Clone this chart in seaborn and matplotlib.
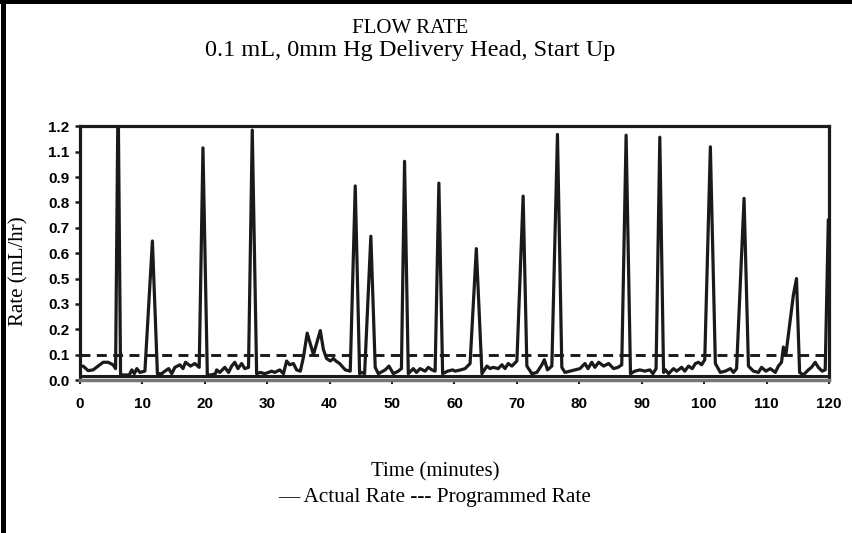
import numpy as np
import pandas as pd
import seaborn as sns
import matplotlib.pyplot as plt
from matplotlib.lines import Line2D

# Time (minutes) and actual flow rate (mL/hr)
time_min = [0.5, 1.3, 2.1, 2.9, 3.7, 4.5, 5.3, 5.7, 6.1, 6.5, 7.0, 7.9, 8.3, 8.7, 9.1, 9.6,
            10.4, 11.6, 12.4, 13.1, 13.6, 14.2, 14.7, 15.2, 16.0, 16.5, 16.9, 17.7, 18.4, 19.1,
            19.7, 20.4, 21.0, 21.7, 21.9, 22.4, 23.2, 23.8, 24.3, 24.8, 25.3, 25.9, 26.4, 27.0,
            27.6, 28.3, 28.9, 29.6, 30.2, 30.7, 31.2, 32.0, 32.6, 33.1, 33.6, 34.2, 34.7, 35.3,
            35.8, 36.4, 37.4, 38.5, 39.0, 39.5, 40.1, 40.6, 41.0, 41.6, 42.5, 43.3, 44.1, 44.8,
            45.1, 45.6, 46.6, 47.3, 47.8, 48.9, 49.5, 50.2, 51.0, 51.5, 52.0, 52.6, 53.4, 53.9,
            54.5, 55.3, 55.8, 56.4, 56.9, 57.5, 58.1, 58.9, 59.7, 60.1, 61.0, 61.7, 62.5, 63.5,
            64.4, 65.2, 65.7, 66.2, 67.0, 67.6, 68.1, 68.6, 69.2, 70.0, 71.0, 71.6, 72.4, 73.2,
            74.0, 74.4, 74.9, 75.6, 76.5, 77.2, 77.7, 78.5, 79.3, 80.1, 80.9, 81.4, 82.0, 82.5,
            83.1, 83.9, 84.7, 85.5, 86.2, 86.8, 87.5, 88.2, 88.9, 89.7, 90.5, 91.3, 91.8, 92.3,
            92.9, 93.5, 93.8, 94.3, 95.1, 95.6, 96.4, 96.9, 97.5, 98.1, 98.6, 99.1, 99.6, 100.1,
            101.0, 101.8, 102.6, 103.4, 104.2, 104.7, 105.2, 106.4, 107.1, 107.9, 108.7, 109.2,
            109.9, 110.6, 111.4, 111.9, 112.4, 112.7, 113.1, 114.3, 114.8, 115.3, 115.9, 116.7,
            117.2, 117.8, 118.3, 118.9, 119.4, 119.9]
actual_rate = [0.055, 0.037, 0.04, 0.055, 0.07, 0.07, 0.06, 0.045, 1.35, 0.02, 0.02, 0.02, 0.04, 0.025, 0.045, 0.03,
               0.035, 0.648, 0.025, 0.025, 0.035, 0.045, 0.025, 0.05, 0.06, 0.045, 0.07, 0.055, 0.065, 0.05,
               1.115, 0.02, 0.02, 0.025, 0.04, 0.03, 0.05, 0.03, 0.055, 0.07, 0.045, 0.065, 0.045, 0.05,
               1.185, 0.025, 0.03, 0.025, 0.03, 0.035, 0.03, 0.04, 0.025, 0.075, 0.06, 0.065, 0.04, 0.035,
               0.09, 0.185, 0.10, 0.195, 0.12, 0.085, 0.075, 0.085, 0.075, 0.065, 0.04, 0.035, 0.865, 0.025,
               0.03, 0.025, 0.667, 0.05, 0.025, 0.04, 0.055, 0.025, 0.035, 0.045, 1.024, 0.025, 0.045, 0.03,
               0.045, 0.035, 0.05, 0.04, 0.035, 0.876, 0.025, 0.035, 0.04, 0.035, 0.04, 0.045, 0.065, 0.618,
               0.025, 0.055, 0.045, 0.05, 0.045, 0.06, 0.045, 0.065, 0.055, 0.075, 0.825, 0.055, 0.025, 0.03,
               0.06, 0.08, 0.04, 0.055, 1.168, 0.05, 0.03, 0.035, 0.04, 0.045, 0.065, 0.045, 0.07, 0.05,
               0.07, 0.055, 0.065, 0.045, 0.05, 0.06, 1.165, 0.025, 0.035, 0.04, 0.035, 0.04, 0.025, 0.045,
               1.157, 0.03, 0.04, 0.025, 0.045, 0.035, 0.05, 0.035, 0.055, 0.045, 0.065, 0.07, 0.06, 0.08,
               1.119, 0.065, 0.03, 0.035, 0.045, 0.03, 0.045, 0.816, 0.055, 0.035, 0.03, 0.05,
               0.035, 0.045, 0.03, 0.055, 0.07, 0.13, 0.10, 0.37, 0.50, 0.03, 0.02, 0.04,
               0.05, 0.07, 0.05, 0.035, 0.04, 0.732]

programmed_time = [0, 120]
programmed_rate = [0.1, 0.1]
floor_rate = 0.016

x_ticks = list(range(0, 121, 10))
y_ticks = [0.0, 0.1, 0.2, 0.3, 0.5, 0.6, 0.7, 0.8, 0.9, 1.1, 1.2]

df = pd.DataFrame({'time': time_min, 'rate': actual_rate})
prog = pd.DataFrame({'time': programmed_time, 'rate': programmed_rate})

sns.set_style('white')
plt.rcParams['font.family'] = ['Liberation Serif', 'DejaVu Serif']
plt.rcParams['text.color'] = 'black'
plt.rcParams['xtick.color'] = 'black'
plt.rcParams['ytick.color'] = 'black'

# the printed axis places its labels evenly even though 0.4 and 1.0 are missing
knots_v = [-1.0] + y_ticks + [2.2]
knots_p = [-10.0] + list(range(len(y_ticks))) + [20.0]

def fwd(v):
    return np.interp(v, knots_v, knots_p)

def inv(p):
    return np.interp(p, knots_p, knots_v)

fig = plt.figure(figsize=(8.53, 5.33), dpi=100)
ax = fig.add_axes([0.0938, 0.287, 0.878, 0.476])

sns.lineplot(data=df, x='time', y='rate', ax=ax, color='#1a1a1a', linewidth=2.3)
sns.lineplot(data=prog, x='time', y='rate', ax=ax, color='#1a1a1a', linewidth=2.1,
             linestyle=(0, (3.4, 2.2)))
ax.axhline(floor_rate, color='#1a1a1a', linewidth=2.2, zorder=1)

ax.set_yscale('function', functions=(fwd, inv))
ax.set_ylim(0, 1.2)
ax.set_xlim(0, 120)
ax.set_yticks(y_ticks)
ax.set_yticklabels([f'{v:.1f}' for v in y_ticks])
ax.yaxis.set_minor_locator(plt.NullLocator())
ax.set_xticks(x_ticks)
ax.set_xticklabels([str(v) for v in x_ticks])

for lab in ax.get_xticklabels() + ax.get_yticklabels():
    lab.set_fontfamily('Liberation Sans')
    lab.set_fontweight('bold')
    lab.set_fontsize(11)
ax.tick_params(axis='y', direction='out', length=3.5, width=1.8, pad=4, left=True, color='#1a1a1a')
ax.tick_params(axis='x', direction='out', length=3, width=1.5, pad=9, bottom=True, color='#1a1a1a')

for side in ['left', 'top', 'right']:
    ax.spines[side].set_color('#1a1a1a')
    ax.spines[side].set_linewidth(2.3)
ax.spines['bottom'].set_color('#777777')
ax.spines['bottom'].set_linewidth(2.5)
ax.set_xlabel('')
ax.set_ylabel('')

fig.text(0.481, 0.946, 'FLOW RATE', ha='center', va='center', fontsize=15)
fig.text(0.481, 0.906, '0.1 mL, 0mm Hg Delivery Head, Start Up', ha='center', va='center', fontsize=17.5)
fig.text(0.022, 0.4916, 'Rate (mL/hr)', ha='center', va='center', rotation=90, fontsize=15)
fig.text(0.51, 0.114, 'Time (minutes)', ha='center', va='center', fontsize=15)
fig.text(0.509, 0.067, '\u2014 Actual Rate --- Programmed Rate', ha='center', va='center', fontsize=15.3)

# outer frame remnants (left and top edges)
fig.add_artist(Line2D([0.003, 0.003], [0, 1], transform=fig.transFigure, color='black', linewidth=3.6))
fig.add_artist(Line2D([0, 1], [0.9962, 0.9962], transform=fig.transFigure, color='black', linewidth=2.9))

fig.savefig('out.png', dpi=100)
